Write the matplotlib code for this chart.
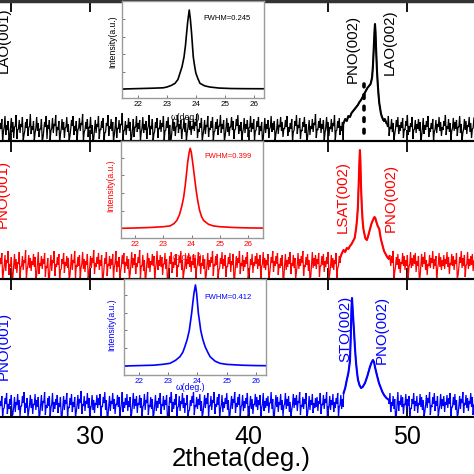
import numpy as np
import matplotlib
matplotlib.use("Agg")
import matplotlib.pyplot as plt
from matplotlib.ticker import MultipleLocator

plt.rcParams['font.family'] = ['Liberation Sans', 'DejaVu Sans']

# ---------------- data ----------------
# background noise read as an envelope per 0.1 deg bin (upper and lower excursion)
scan_start = 24.3
scan_step = 0.1
x_range = (24.31, 54.23)

top_noise_high = [
    18,22,9,25,16,20,4,23,19,14,26,11,21,17,24,6,19,22,13,27,
    15,20,8,24,18,12,22,3,19,25,16,21,10,23,17,26,14,20,7,22,
    19,13,24,17,5,21,25,15,20,11,23,18,27,9,19,22,14,24,16,2,
    21,17,25,12,20,23,8,18,26,15,22,19,6,24,13,21,17,28,10,20,
    16,23,19,4,22,14,25,18,21,9,24,17,20,12,26,15,22,7,19,23,
    13,21,18,25,10,20,24,16,3,22,19,14,26,17,21,11,23,18,8,24,
    20,15,22,19,27,12,18,23,6,21,16,25,13,20,24,9,19,22,15,26,
    17,21,5,23,18,14,24,20,11,22,26,16,19,8,23,17,21,13,25,18,
    22,10,20,24,15,19,2,23,17,21,12,25,18,20,7,22,16,24,19,13,
    21,25,14,18,22,9,20,26,16,23,11,19,24,17,4,21,15,22,18,27,
    12,20,23,17,21,8,24,19,14,22,18,26,10,20,23,15,19,6,25,17,
    22,16,20,13,24,18,21,3,23,19,15,25,17,20,11,22,18,24,14,21,
    19,23,9,20,17,25,14,22,18,7,21,24,16,19,23,12,20,26,15,18,
    24,11,21,17,22,19,5,23,16,20,25,13,18,22,9,21,17,24,19,14,
    20,26,15,22,18,10,23,19,21,14,25,17,8,22,20,16,24,18,12,23,
]
top_noise_low = [
    10,12,0,14,6,11,0,13,9,3,15,2,12,8,14,0,10,13,5,15,
    7,11,0,13,10,4,12,0,11,14,2,12,1,13,8,15,5,11,0,12,
    11,3,14,9,0,12,15,6,10,0,13,10,16,0,11,12,4,13,7,0,
    12,8,14,2,11,13,0,9,15,5,12,10,0,14,3,12,8,16,1,11,
    6,13,10,0,12,4,14,9,12,0,13,8,11,2,15,6,12,0,10,13,
    3,12,9,14,1,11,13,7,0,12,10,5,15,8,12,2,13,9,0,14,
    11,6,12,10,15,3,9,13,0,12,7,14,4,11,13,0,10,12,6,15,
    8,12,0,13,9,5,14,11,2,12,15,7,10,0,13,8,12,4,14,9,
    12,1,11,14,6,10,0,13,8,12,3,14,9,11,0,12,7,14,10,4,
    12,14,5,9,12,0,11,15,7,13,2,10,14,8,0,12,6,12,9,16,
    3,11,13,8,12,0,14,10,5,12,9,15,1,11,13,6,10,0,14,8,
    12,7,11,4,14,9,12,0,13,10,6,14,8,11,2,12,9,14,5,12,
    10,13,0,11,8,14,5,12,9,0,12,14,7,10,13,3,11,15,6,9,
    14,2,12,8,12,10,0,13,7,11,14,4,9,12,0,12,8,14,10,5,
    11,15,6,12,9,1,13,10,12,5,14,8,0,12,11,7,14,9,3,13,
]
mid_noise_high = [
    21,26,7,24,19,28,15,22,2,25,20,17,27,12,23,19,29,10,24,21,
    18,25,22,4,27,16,23,20,26,13,21,0,24,19,28,15,22,25,9,20,
    26,17,23,21,3,25,19,28,14,22,24,11,27,20,18,25,6,23,21,29,
    16,22,26,19,24,1,21,27,15,23,20,25,12,28,18,22,8,24,26,17,
    23,20,5,27,21,25,16,22,29,13,24,19,2,26,21,18,25,23,10,28,
    19,24,22,15,26,20,0,23,27,17,21,25,14,22,28,19,7,24,20,26,
    22,18,25,21,11,27,23,16,24,20,3,26,19,22,28,15,23,25,9,21,
    27,20,24,13,22,26,18,25,1,23,21,28,16,24,19,22,27,6,20,25,
    17,23,26,20,24,12,27,21,19,25,4,22,28,18,23,26,15,21,24,0,
    25,19,22,27,16,24,21,8,26,20,23,28,14,22,25,19,2,27,21,24,
    20,26,13,23,25,18,22,27,5,24,21,19,26,11,23,28,20,24,17,22,
    26,21,24,3,25,19,27,22,16,23,28,20,10,24,21,26,18,23,0,25,
    22,27,19,24,14,26,21,23,28,7,22,25,20,17,26,23,19,24,12,27,
    21,24,26,18,23,2,25,22,27,19,15,24,21,28,20,23,9,26,22,19,
    24,20,27,22,16,25,23,19,26,4,22,28,21,24,13,27,20,23,25,18,
]
mid_noise_low = [
    12,15,0,13,8,16,4,12,0,14,10,6,15,0,13,9,16,0,14,11,
    8,14,12,0,15,5,13,10,15,2,11,0,14,8,16,3,12,14,0,10,
    15,6,13,11,0,14,9,16,0,12,13,0,15,10,7,14,0,13,11,16,
    5,12,15,9,13,0,11,15,3,13,10,14,0,16,7,12,0,13,15,6,
    13,10,0,15,11,14,5,12,16,1,13,8,0,15,11,7,14,13,0,16,
    9,13,12,4,15,10,0,13,15,6,11,14,2,12,16,9,0,13,10,15,
    12,7,14,11,0,15,13,5,13,10,0,15,9,12,16,3,13,14,0,11,
    15,10,13,2,12,15,7,14,0,13,11,16,5,13,8,12,15,0,10,14,
    6,13,15,10,13,0,15,11,9,14,0,12,16,7,13,15,4,11,13,0,
    14,9,12,15,5,13,11,0,15,10,13,16,3,12,14,8,0,15,11,13,
    10,15,2,13,14,7,12,15,0,13,11,9,15,0,13,16,10,13,6,12,
    15,11,13,0,14,9,15,12,5,13,16,10,0,13,11,15,7,13,0,14,
    12,15,9,13,3,15,11,13,16,0,12,14,10,6,15,13,9,13,1,15,
    11,13,15,7,13,0,14,12,15,9,4,13,11,16,10,13,0,15,12,9,
    13,10,15,12,5,14,13,9,15,0,12,16,11,13,2,15,10,13,14,8,
]
bot_noise_high = [
    16,21,8,19,24,13,18,22,3,20,15,23,17,11,21,25,14,19,6,22,
    18,13,23,17,20,2,22,16,25,12,19,21,9,24,15,18,22,14,20,0,
    21,17,24,10,19,23,15,20,5,22,18,26,13,21,16,24,19,7,22,17,
    14,22,19,23,11,20,25,17,1,21,16,24,18,13,22,20,8,25,15,19,
    23,16,20,4,24,18,21,14,22,19,10,23,17,25,12,20,18,3,22,16,
    19,24,13,21,17,22,0,20,25,15,18,23,9,21,16,24,19,14,22,6,
    17,21,25,12,20,18,23,16,4,22,19,24,11,21,17,25,13,20,23,8,
    22,15,19,24,17,2,21,18,25,14,20,23,10,22,16,19,24,5,21,18,
    13,23,20,17,22,9,24,16,19,21,14,25,18,1,22,20,15,23,17,11,
    24,18,21,15,7,23,19,22,16,25,12,20,18,24,3,21,17,23,14,19,
    20,16,24,13,22,18,25,6,21,17,23,15,19,24,10,22,18,20,2,23,
    17,22,14,21,19,24,11,20,25,16,18,4,23,21,15,22,19,24,13,20,
    23,17,20,8,22,19,24,15,21,18,1,25,16,22,20,13,23,18,21,9,
    18,24,16,21,14,23,20,17,5,22,19,25,12,20,24,16,21,7,23,18,
    21,15,22,19,24,10,20,23,17,3,21,18,25,14,22,19,16,24,20,12,
]
bot_noise_low = [
    7,11,0,9,13,3,8,12,0,10,5,12,7,1,11,14,4,9,0,12,
    9,3,12,7,10,0,12,6,14,2,9,11,0,13,5,8,12,4,10,0,
    11,7,13,0,9,12,5,10,0,12,8,14,3,11,6,13,9,0,12,7,
    4,12,9,12,1,10,14,7,0,11,6,13,8,3,12,10,0,14,5,9,
    12,6,10,0,13,8,11,4,12,9,0,12,7,14,2,10,8,0,12,6,
    9,13,3,11,7,12,0,10,14,5,8,12,0,11,6,13,9,4,12,0,
    7,11,14,2,10,8,12,6,0,12,9,13,1,11,7,14,3,10,12,0,
    12,5,9,13,7,0,11,8,14,4,10,12,0,12,6,9,13,0,11,8,
    3,12,10,7,12,0,13,6,9,11,4,14,8,0,12,10,5,12,7,1,
    13,8,11,5,0,12,9,12,6,14,2,10,8,13,0,11,7,12,4,9,
    10,6,13,3,12,8,14,0,11,7,12,5,9,13,0,12,8,10,0,12,
    7,12,4,11,9,13,1,10,14,6,8,0,12,11,5,12,9,13,3,10,
    12,7,10,0,12,9,13,5,11,8,0,14,6,12,10,3,12,8,11,0,
    8,13,6,11,4,12,10,7,0,12,9,14,2,10,13,6,11,0,12,8,
    11,5,12,9,13,0,10,12,7,0,11,8,14,4,12,9,6,13,10,2,
]

top_peak_x = [46.0, 46.1, 46.2, 46.3, 46.4, 46.5, 46.6, 46.7, 46.8, 46.9, 47.0, 47.1,
              47.2, 47.3, 47.4, 47.5, 47.6, 47.7, 47.75, 47.8, 47.85, 47.9, 47.95, 47.98,
              48.01, 48.05, 48.1, 48.15, 48.2, 48.25, 48.3, 48.35, 48.4, 48.45, 48.5,
              48.55, 48.6, 48.7]
top_peak_y = [18, 22, 20, 25, 24, 28, 30, 32, 34, 36, 39, 41,
              44, 47, 50, 53, 55, 57, 60, 64, 75, 92, 110, 117,
              110, 92, 72, 58, 47, 38, 33, 28, 25, 23, 21,
              20, 22, 18]

mid_peak_x = [45.8, 45.9, 46.0, 46.1, 46.2, 46.3, 46.4, 46.5, 46.6, 46.7, 46.8, 46.85,
              46.9, 46.95, 47.0, 47.03, 47.06, 47.1, 47.15, 47.2, 47.25, 47.3, 47.35,
              47.4, 47.47, 47.55, 47.65, 47.75, 47.85, 47.95, 48.0, 48.05, 48.15, 48.25,
              48.35, 48.45, 48.55, 48.65, 48.75, 48.85, 48.9]
mid_peak_y = [22, 26, 29, 27, 31, 30, 33, 35, 38, 41, 52, 60,
              72, 95, 120, 129, 118, 92, 72, 58, 50, 46, 42,
              40, 39, 43, 49, 55, 59, 62, 61, 58, 53, 50,
              40, 34, 28, 25, 22, 20, 23]

bot_peak_x = [46.0, 46.1, 46.2, 46.3, 46.4, 46.45, 46.5, 46.53, 46.57, 46.62, 46.66,
              46.72, 46.78, 46.85, 46.91, 47.0, 47.1, 47.2, 47.35, 47.5, 47.66, 47.75,
              47.85, 47.92, 47.98, 48.1, 48.23, 48.35, 48.45, 48.55, 48.7, 48.86]
bot_peak_y = [24, 29, 37, 44, 56, 80, 110, 119, 108, 95, 85,
              68, 55, 44, 37, 32, 29, 30, 34, 41, 50, 54,
              57, 55, 50, 42, 34, 29, 25, 22, 19, 17]

top_inset_x = [21.5, 22.0, 22.5, 22.87, 23.0, 23.15, 23.28, 23.38, 23.45, 23.52, 23.59,
               23.64, 23.68, 23.72, 23.77, 23.81, 23.85, 23.91, 23.96, 24.0, 24.07, 24.14,
               24.3, 24.48, 24.8, 25.2, 25.7, 26.35]
top_inset_y = [0.0, 0.005, 0.01, 0.015, 0.025, 0.045, 0.072, 0.12, 0.20, 0.28, 0.405,
               0.55, 0.71, 0.86, 1.0, 0.88, 0.71, 0.405, 0.28, 0.20, 0.13, 0.072,
               0.04, 0.025, 0.012, 0.006, 0.004, 0.003]
mid_inset_x = [21.5, 22.0, 22.5, 23.0, 23.24, 23.38, 23.48, 23.57, 23.65, 23.72, 23.77,
               23.82, 23.86, 23.91, 23.95, 23.99, 24.04, 24.1, 24.16, 24.22, 24.28, 24.35,
               24.42, 24.6, 24.77, 25.0, 25.5, 26.0, 26.53]
mid_inset_y = [0.0, 0.004, 0.01, 0.02, 0.03, 0.06, 0.10, 0.17, 0.27, 0.39, 0.52,
               0.68, 0.82, 0.94, 1.0, 0.95, 0.82, 0.65, 0.48, 0.34, 0.23, 0.15,
               0.10, 0.05, 0.03, 0.02, 0.01, 0.005, 0.003]
bot_inset_x = [21.5, 22.0, 22.5, 22.8, 23.06, 23.25, 23.40, 23.50, 23.57, 23.65, 23.72,
               23.80, 23.84, 23.88, 23.93, 23.97, 24.03, 24.07, 24.11, 24.18, 24.26, 24.35,
               24.43, 24.6, 24.77, 25.0, 25.5, 26.0, 26.34]
bot_inset_y = [0.0, 0.005, 0.01, 0.02, 0.033, 0.07, 0.115, 0.17, 0.24, 0.33, 0.44,
               0.65, 0.78, 0.90, 1.0, 0.90, 0.65, 0.55, 0.44, 0.33, 0.24, 0.17,
               0.115, 0.06, 0.033, 0.02, 0.01, 0.005, 0.004]

inset_ticks = [22, 23, 24, 25, 26]
main_ticks_major = 10
main_ticks_minor = 5
pno_top_position = 47.3

# ---------------- layout ----------------
W = H = 474.0
fig = plt.figure(figsize=(4.74, 4.74), dpi=100)


def rect(left, top, right, bottom):
    return [left / W, 1 - bottom / H, (right - left) / W, (bottom - top) / H]


panels = [
    dict(rect=rect(0, 1, 474, 141), ylim=(0, 140), hi=top_noise_high, lo=top_noise_low,
         px=top_peak_x, py=top_peak_y, color='black',
         labels=[("LAO(001)", 24.55, 101), ("PNO(002)", 46.59, 92), ("LAO(002)", 48.93, 99)],
         inset=dict(rect=rect(122, 1, 264, 98), x=top_inset_x, y=top_inset_y,
                    xlim=(21.45, 26.35), ylim=(-0.114, 1.114), fwhm="FWHM=0.245",
                    fpos=(0.57, 0.815), ylab=(-0.063, 0.577), xlab=(0.444, -0.206))),
    dict(rect=rect(0, 141, 474, 279), ylim=(0, 138), hi=mid_noise_high, lo=mid_noise_low,
         px=mid_peak_x, py=mid_peak_y, color='#ff0000',
         labels=[("PNO(001)", 24.5, 85), ("LSAT(002)", 45.96, 82), ("PNO(002)", 48.99, 81)],
         inset=dict(rect=rect(121, 141, 263, 238), x=mid_inset_x, y=mid_inset_y,
                    xlim=(21.5, 26.53), ylim=(-0.121, 1.091), fwhm="FWHM=0.399",
                    fpos=(0.59, 0.845), ylab=(-0.07, 0.536), xlab=(0.465, -0.196))),
    dict(rect=rect(0, 279, 474, 417), ylim=(0, 138), hi=bot_noise_high, lo=bot_noise_low,
         px=bot_peak_x, py=bot_peak_y, color='#0000ff',
         labels=[("PNO(001)", 24.55, 71), ("STO(002)", 46.09, 88), ("PNO(002)", 48.42, 87)],
         inset=dict(rect=rect(124, 279, 266, 375), x=bot_inset_x, y=bot_inset_y,
                    xlim=(21.49, 26.34), ylim=(-0.111, 1.074), fwhm="FWHM=0.412",
                    fpos=(0.563, 0.81), ylab=(-0.085, 0.52), xlab=(0.47, -0.135))),
]

for i, p in enumerate(panels):
    ax = fig.add_axes(p['rect'])
    hi = np.array(p['hi'], dtype=float)
    lo = np.array(p['lo'], dtype=float)
    nx = scan_start + scan_step * np.arange(len(hi))
    # each bin: lower then upper excursion
    bx = np.column_stack([nx - scan_step / 4, nx + scan_step / 4]).ravel()
    by = np.column_stack([lo, hi]).ravel()
    px = np.array(p['px'])
    py = np.array(p['py'], dtype=float)
    keep = (bx < px[0]) | (bx > px[-1])
    xs = np.concatenate([bx[keep], px])
    ys = np.concatenate([by[keep], py])
    order = np.argsort(xs, kind='stable')
    ax.plot(xs[order], ys[order], color=p['color'], lw=0.9, solid_joinstyle='miter')
    ax.plot(px, py, color=p['color'], lw=1.5)
    ax.set_xlim(*x_range)
    ax.set_ylim(*p['ylim'])
    ax.spines['left'].set_visible(False)
    ax.spines['right'].set_visible(False)
    for s in ('top', 'bottom'):
        ax.spines[s].set_linewidth(1.5)
        ax.spines[s].set_color('black')
    if i == 0:
        ax.spines['top'].set_color('#333333')
        ax.spines['top'].set_linewidth(2.5)
    ax.xaxis.set_major_locator(MultipleLocator(main_ticks_major))
    ax.xaxis.set_minor_locator(MultipleLocator(main_ticks_minor))
    ax.tick_params(axis='x', which='both', direction='in', length=8, width=1.3,
                   top=True, bottom=True, labelbottom=(i == 2), labelsize=18, pad=6)
    ax.set_yticks([])
    ax.patch.set_alpha(0)
    for txt, tx, ty in p['labels']:
        ax.text(tx, ty, txt, rotation=90, ha='center', va='center',
                fontsize=10.8, color=p['color'])
    if i == 0:
        ax.plot([pno_top_position, pno_top_position], [8, 57], color='black',
                lw=2.6, linestyle=(0, (1, 2.2)), dash_capstyle='round')

    ins = p['inset']
    ia = fig.add_axes(ins['rect'])
    ia.plot(ins['x'], ins['y'], color=p['color'], lw=1.2)
    ia.set_xlim(*ins['xlim'])
    ia.set_ylim(*ins['ylim'])
    ia.set_xticks(inset_ticks)
    ia.set_yticks([0.0, 0.22, 0.44, 0.66, 0.88])
    ia.set_yticklabels([])
    for s in ia.spines.values():
        s.set_color('#9a9a9a')
        s.set_linewidth(1.0)
    ia.tick_params(axis='both', direction='in', length=2.5, width=0.7, colors='#777777',
                   labelsize=5.8, pad=2)
    ia.tick_params(axis='x', labelcolor=p['color'])
    ia.text(ins['fpos'][0], ins['fpos'][1], ins['fwhm'], transform=ia.transAxes,
            ha='left', va='center', fontsize=5.5, color=p['color'])
    ia.text(ins['ylab'][0], ins['ylab'][1], "Intensity(a.u.)", transform=ia.transAxes,
            rotation=90, ha='center', va='center', fontsize=6.2, color=p['color'])
    ia.text(ins['xlab'][0], ins['xlab'][1], "ω(deg.)", transform=ia.transAxes,
            ha='center', va='center', fontsize=6.2, color=p['color'])

fig.text(241 / W, 1 - 466 / H, "2theta(deg.)", ha='center', va='baseline', fontsize=18.5)

fig.savefig("out.png", dpi=100)
